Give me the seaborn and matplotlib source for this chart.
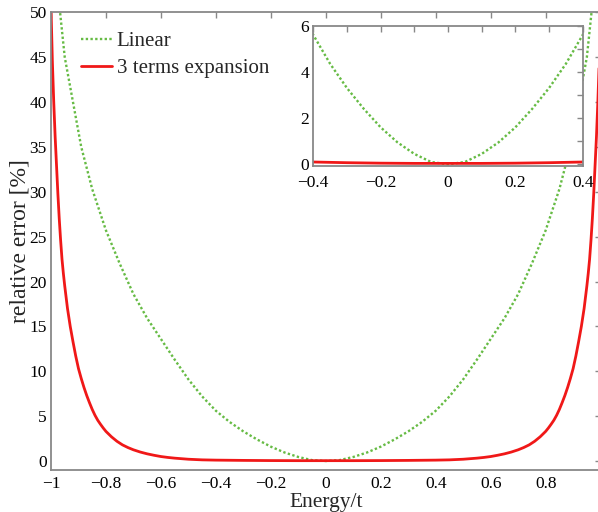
import numpy as np
import pandas as pd
import matplotlib
matplotlib.use("Agg")
import matplotlib.pyplot as plt
import seaborn as sns
from matplotlib.ticker import MultipleLocator

# ---- data ----
lin_energy_left = [-0.98, -0.967, -0.95, -0.92, -0.89, -0.85, -0.80, -0.75, -0.70,
                   -0.65, -0.60, -0.55, -0.50, -0.45, -0.40, -0.35, -0.30, -0.25,
                   -0.20, -0.15, -0.10, -0.05]
lin_error_left = [55, 50, 45, 40, 35, 30.3, 25.7, 22.0, 18.6,
                  15.9, 13.6, 11.3, 9.1, 7.2, 5.6, 4.35, 3.3, 2.4,
                  1.6, 0.95, 0.45, 0.1]
lin_energy_center = [0.0]
lin_error_center = [0.0]

exp_energy_left = [-1.0, -0.995, -0.99, -0.985, -0.98, -0.975, -0.97, -0.965, -0.96,
                   -0.955, -0.95, -0.94, -0.93, -0.92, -0.91, -0.90, -0.89, -0.88,
                   -0.87, -0.86, -0.85, -0.84, -0.83, -0.82, -0.81, -0.80, -0.78,
                   -0.76, -0.74, -0.72, -0.70, -0.675, -0.65, -0.625, -0.60, -0.575,
                   -0.55, -0.50, -0.45, -0.40, -0.30, -0.20, -0.10]
exp_error_left = [50.5, 44.5, 40, 36.2, 33, 29.8, 27, 24.6, 22.5,
                  20.9, 19.5, 17.0, 15.0, 13.3, 11.7, 10.3, 9.2, 8.2,
                  7.3, 6.5, 5.75, 5.1, 4.55, 4.1, 3.68, 3.3, 2.7,
                  2.2, 1.8, 1.5, 1.25, 1.0, 0.8, 0.64, 0.5, 0.4,
                  0.32, 0.2, 0.13, 0.1, 0.07, 0.05, 0.04]
exp_energy_center = [0.0]
exp_error_center = [0.04]

# symmetric curves (the picture is mirror-symmetric about 0)
lin_energy = lin_energy_left + lin_energy_center + [-v for v in lin_energy_left[::-1]]
lin_error = lin_error_left + lin_error_center + lin_error_left[::-1]
exp_energy = exp_energy_left + exp_energy_center + [-v for v in exp_energy_left[::-1]]
exp_error = exp_error_left + exp_error_center + exp_error_left[::-1]

main_xticks = [-1, -0.8, -0.6, -0.4, -0.2, 0, 0.2, 0.4, 0.6, 0.8]
main_yticks = [0, 5, 10, 15, 20, 25, 30, 35, 40, 45, 50]
inset_xticks = [-0.4, -0.2, 0, 0.2, 0.4]
inset_yticks = [0, 2, 4, 6]

lin_df = pd.DataFrame({"Energy/t": lin_energy, "err": lin_error})
exp_df = pd.DataFrame({"Energy/t": exp_energy, "err": exp_error})

# ---- style ----
sns.set_theme(style="white")
plt.rcParams["font.family"] = ["Liberation Serif", "DejaVu Serif"]
plt.rcParams["axes.unicode_minus"] = True

GREEN = "#66bb44"
RED = "#f01818"
SPINE = "#888888"

W, H = 598, 512
fig = plt.figure(figsize=(W / 100, H / 100), dpi=100)
fig.patch.set_facecolor("white")

# main axes: left 51px, right ~600.6px (just past the picture), top 12px, bottom 470px
L, R, T, B = 51, 600.6, 12.3, 470
ax = fig.add_axes([L / W, 1 - B / H, (R - L) / W, (B - T) / H])


def style_axes(a, fs, xpad=3):
    for s in a.spines.values():
        s.set_color(SPINE)
        s.set_linewidth(1.3)
    a.tick_params(which="both", direction="in", top=True, right=True,
                  color=SPINE, width=1.0, length=4, labelsize=fs,
                  labelcolor="black", pad=3)
    a.tick_params(axis="x", which="both", pad=xpad)
    a.set_facecolor("white")


sns.lineplot(data=lin_df, x="Energy/t", y="err", ax=ax, color=GREEN,
             linewidth=1.7, linestyle=(0, (1, 1)), label="Linear", sort=True,
             estimator=None)
sns.lineplot(data=exp_df, x="Energy/t", y="err", ax=ax, color=RED,
             linewidth=2.0, label="3 terms expansion", sort=True, estimator=None)

ax.set_xlim(-1, 1)
ax.set_ylim(-1, 50)
ax.set_xticks(main_xticks)
ax.set_xticklabels([f"{v:g}".replace("-", "\u2212") for v in main_xticks])
ax.set_yticks(main_yticks)
style_axes(ax, 12.5, xpad=4)
ax.set_xlabel("Energy/t", fontsize=15.5, labelpad=1)
ax.set_ylabel("relative error [%]", fontsize=17, labelpad=-1)

leg = ax.legend(loc="upper left", bbox_to_anchor=(0.055, 0.958), frameon=False,
                fontsize=15, handlelength=1.5, handletextpad=0.2,
                labelspacing=0.35, borderpad=0, borderaxespad=0)

# inset
iL, iR, iT, iB = 313.3, 582.7, 25.7, 165.7
axi = fig.add_axes([iL / W, 1 - iB / H, (iR - iL) / W, (iB - iT) / H])
sns.lineplot(data=lin_df, x="Energy/t", y="err", ax=axi, color=GREEN,
             linewidth=1.7, linestyle=(0, (1, 1)), legend=False, sort=True,
             estimator=None)
sns.lineplot(data=exp_df, x="Energy/t", y="err", ax=axi, color=RED,
             linewidth=2.0, legend=False, sort=True, estimator=None)
axi.set_xlim(-0.4, 0.4)
axi.set_ylim(-0.06, 6)
axi.set_xticks(inset_xticks)
axi.set_xticklabels([f"{v:g}".replace("-", "\u2212") for v in inset_xticks])
axi.set_yticks(inset_yticks)
axi.xaxis.set_minor_locator(MultipleLocator(0.1))
axi.yaxis.set_minor_locator(MultipleLocator(1))
style_axes(axi, 12.5, xpad=6.5)
axi.set_xlabel("")
axi.set_ylabel("")

fig.savefig("out.png", dpi=100, facecolor="white")
